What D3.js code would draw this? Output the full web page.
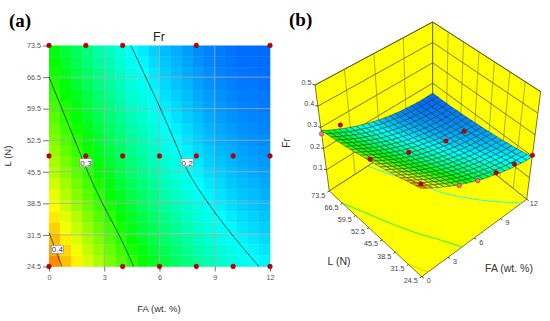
<!DOCTYPE html>
<html>
<head>
<meta charset="utf-8">
<script src="https://cdn.jsdelivr.net/npm/d3@7"></script>
<style>
  body { margin: 0; background: #fff; }
  text { font-family: "Liberation Sans", Arial, sans-serif; }
  .panel { font-family: "Liberation Serif", "Times New Roman", serif; font-weight: bold; font-size: 19px; }
</style>
</head>
<body>
<div id="chart-area"></div>
<script>
// tick labels
const faTicks = [0, 3, 6, 9, 12];
const lTicks = [24.5, 31.5, 38.5, 45.5, 52.5, 59.5, 66.5, 73.5];
const frTicks = [0.1, 0.2, 0.3, 0.4, 0.5];

// Fr x 1000 per grid cell. First row is L = 24.5, columns FA 0 -> 12
const frGrid = [
  [409, 391, 374, 357, 342, 326, 312, 299, 286, 274, 263, 252, 243, 234, 225, 218, 211, 205, 200, 196],
  [401, 383, 366, 350, 334, 319, 305, 292, 280, 268, 257, 247, 237, 228, 220, 213, 207, 201, 196, 192],
  [393, 375, 358, 342, 327, 312, 299, 285, 273, 262, 251, 241, 232, 223, 215, 208, 202, 197, 192, 188],
  [385, 367, 351, 335, 320, 306, 292, 279, 267, 256, 245, 236, 226, 218, 210, 204, 198, 192, 188, 184],
  [377, 360, 344, 328, 313, 299, 286, 273, 261, 250, 240, 230, 221, 213, 206, 200, 194, 189, 185, 181],
  [369, 352, 336, 321, 306, 292, 279, 267, 255, 244, 234, 225, 217, 209, 201, 195, 190, 185, 181, 178],
  [362, 345, 329, 314, 299, 286, 273, 261, 250, 239, 229, 220, 212, 204, 197, 191, 186, 181, 178, 174],
  [354, 338, 323, 307, 293, 280, 267, 255, 244, 234, 224, 216, 207, 200, 193, 188, 182, 178, 175, 172],
  [347, 331, 316, 301, 287, 274, 262, 250, 239, 229, 219, 211, 203, 196, 189, 184, 179, 175, 172, 169],
  [340, 324, 310, 295, 281, 268, 256, 244, 234, 224, 215, 207, 199, 192, 185, 181, 176, 172, 169, 166],
  [334, 318, 303, 289, 275, 263, 251, 239, 229, 219, 210, 203, 195, 188, 182, 177, 173, 169, 166, 164],
  [327, 311, 297, 283, 269, 257, 245, 234, 225, 215, 206, 199, 191, 184, 178, 174, 170, 166, 164, 162],
  [321, 305, 291, 277, 264, 252, 240, 229, 220, 211, 202, 195, 188, 181, 175, 171, 167, 163, 162, 160],
  [314, 299, 285, 271, 258, 247, 236, 225, 216, 206, 198, 191, 184, 178, 172, 168, 164, 161, 160, 158],
  [308, 293, 280, 266, 253, 242, 231, 220, 212, 202, 194, 188, 181, 175, 169, 166, 162, 159, 158, 156],
  [302, 287, 275, 261, 248, 238, 226, 216, 208, 199, 190, 184, 178, 172, 167, 164, 160, 157, 156, 155],
  [297, 282, 269, 256, 243, 233, 222, 212, 204, 195, 187, 181, 175, 169, 164, 161, 158, 155, 155, 153],
  [291, 277, 264, 251, 239, 229, 218, 208, 200, 192, 184, 178, 172, 167, 162, 159, 156, 154, 153, 152],
  [286, 271, 259, 246, 234, 225, 214, 204, 197, 188, 181, 176, 170, 164, 160, 157, 154, 152, 152, 151],
  [281, 266, 255, 242, 230, 221, 210, 201, 193, 185, 178, 173, 167, 162, 158, 156, 153, 151, 151, 151]
];

// contour lines as [FA, L] pairs
const contour40 = [[0, 32], [0.3, 28.8], [0.7, 24.5]];
const contour30 = [[0, 66.5], [0.7, 59.5], [1.4, 52.5], [2.1, 45.5], [2.9, 38.5], [3.8, 31.5], [4.6, 24.5]];
const contour20 = [[4.45, 73.5], [5.25, 66.5], [6.05, 59.5], [6.8, 52.5], [7.55, 45.5], [8.65, 38.5], [9.95, 31.5], [11.4, 24.5]];

// design points
const ptFA = [0, 2, 4, 8, 12, 0, 2, 4, 6, 8, 10, 12, 0, 4, 6, 8, 10, 12];
const ptL = [73.5, 73.5, 73.5, 73.5, 73.5, 49, 49, 49, 49, 49, 49, 49, 24.5, 24.5, 24.5, 24.5, 24.5, 24.5];

// points of the 3D panel that show: FA, L, Fr, and whether they sit under the surface
const dotFA = [0, 2, 0, 4, 8, 10, 12, 10, 8, 6, 4, 0];
const dotL = [73.5, 73.5, 49, 49, 49, 49, 24.5, 24.5, 24.5, 24.5, 24.5, 24.5];
const dotFr = [0.27, 0.26, 0.354, 0.273, 0.213, 0.202, 0.205, 0.225, 0.245, 0.27, 0.31, 0.443];
const dotUnder = [true, false, false, false, false, false, false, false, false, true, true, false];

const svg = d3.select('#chart-area').append('svg')
  .attr('width', 550)
  .attr('height', 321);

svg.append('text').attr('class', 'panel').attr('x', 9).attr('y', 27).text('(a)');
svg.append('text').attr('class', 'panel').attr('x', 289).attr('y', 26).text('(b)');

const color = d3.scaleLinear()
  .domain([0.115, 0.2, 0.285, 0.37, 0.455])
  .range(['#0000ff', '#00ffff', '#00ff00', '#ffff00', '#ff0000']);

const cols = frGrid[0].length;
const rows = frGrid.length;

// PANEL A
const x = d3.scaleLinear().domain([0, 12]).range([49, 270]);
const y = d3.scaleLinear().domain([24.5, 73.5]).range([266.5, 45.5]);
const faStep = 12 / cols;
const lStep = 49 / rows;

const a = svg.append('g');

frGrid.forEach((row, j) => {
  a.append('g').selectAll('rect')
    .data(row)
    .enter().append('rect')
      .attr('x', (d, i) => x(i * faStep))
      .attr('y', y(24.5 + (j + 1) * lStep))
      .attr('width', x(faStep) - x(0) + 0.3)
      .attr('height', y(24.5) - y(24.5 + lStep) + 0.3)
      .attr('fill', d => color(d / 1000));
});

const xAxisCall = d3.axisBottom(x).tickValues(faTicks).tickSize(5).tickPadding(3);
const yAxisCall = d3.axisLeft(y).tickValues(lTicks).tickSize(6).tickPadding(2).tickFormat(d3.format('.1f'));

a.append('g').selectAll('line').data(faTicks.slice(1, -1)).enter().append('line')
  .attr('x1', d => x(d)).attr('x2', d => x(d))
  .attr('y1', y(24.5)).attr('y2', y(73.5))
  .attr('stroke', '#aaa').attr('stroke-width', 0.8);
a.append('g').selectAll('line').data(lTicks.slice(1, -1)).enter().append('line')
  .attr('x1', x(0)).attr('x2', x(12))
  .attr('y1', d => y(d)).attr('y2', d => y(d))
  .attr('stroke', '#aaa').attr('stroke-width', 0.8);

[xAxisCall, yAxisCall].forEach((call, n) => {
  const ax = a.append('g')
    .attr('transform', n === 0 ? `translate(0, ${y(24.5)})` : `translate(${x(0)}, 0)`)
    .call(call);
  ax.select('.domain').remove();
  ax.selectAll('line').attr('stroke', '#777');
  ax.selectAll('text').attr('font-size', 7.2).attr('fill', '#555')
    .style('font-family', '"Liberation Sans", Arial, sans-serif');
});

const contourLine = d3.line()
  .x(d => x(d[0]))
  .y(d => y(d[1]))
  .curve(d3.curveMonotoneY);

[contour40, contour30, contour20].forEach(c => {
  a.append('path')
    .attr('d', contourLine(c))
    .attr('fill', 'none')
    .attr('stroke', '#143c28')
    .attr('stroke-width', 0.8);
});

// contour labels
[['0.4', 0.45, 28.3], ['0.3', 2, 47.5], ['0.2', 7.5, 47.5]].forEach(l => {
  a.append('rect')
    .attr('x', x(l[1]) - 6).attr('y', y(l[2]) - 4)
    .attr('width', 12).attr('height', 8)
    .attr('fill', '#fff').attr('stroke', '#888').attr('stroke-width', 0.6);
  a.append('text')
    .attr('x', x(l[1])).attr('y', y(l[2]) + 3)
    .attr('text-anchor', 'middle').attr('font-size', 8).attr('fill', '#333')
    .text(l[0]);
});

a.selectAll('circle').data(ptFA).enter().append('circle')
  .attr('cx', d => x(d))
  .attr('cy', (d, i) => y(ptL[i]))
  .attr('r', 2.4)
  .attr('fill', '#c00000')
  .attr('stroke', '#8a0000')
  .attr('stroke-width', 0.4);

a.append('text').attr('x', 159).attr('y', 41).attr('text-anchor', 'middle')
  .attr('font-size', 12.5).attr('fill', '#222').text('Fr');
a.append('text').attr('x', 159).attr('y', 312).attr('text-anchor', 'middle')
  .attr('font-size', 9.5).attr('fill', '#333').text('FA (wt. %)');
a.append('text').attr('transform', 'translate(11, 156) rotate(-90)').attr('text-anchor', 'middle')
  .attr('font-size', 9.5).attr('fill', '#333').text('L (N)');

// PANEL B
const fx = d3.scaleLinear().domain([0, 12]).range([0, 1]);
const fy = d3.scaleLinear().domain([24.5, 73.5]).range([0, 1]);
const fz = d3.scaleLinear().domain([0, 0.5]).range([0, 1]);

// box corners on screen: [floor, top] for front, right, left, back
const front = [[421.7, 276.7], [420.8, 172]];
const right = [[526.7, 199.3], [540.7, 91.7]];
const left = [[329.3, 191], [315, 85]];
const back = [[432.7, 124], [432.7, 22]];

const mix = (p, q, t) => [p[0] + (q[0] - p[0]) * t, p[1] + (q[1] - p[1]) * t];

const project = (fa, l, fr) => {
  const u = fx(fa), v = fy(l), w = fz(fr);
  const floor = mix(mix(front[0], right[0], u), mix(left[0], back[0], u), v);
  const top = mix(mix(front[1], right[1], u), mix(left[1], back[1], u), v);
  return mix(floor, top, w);
};

const b = svg.append('g');
const poly = pts => pts.map(p => p.join(',')).join(' ');
const segment = (p, q, stroke, width) => b.append('line')
  .attr('x1', p[0]).attr('y1', p[1])
  .attr('x2', q[0]).attr('y2', q[1])
  .attr('stroke', stroke).attr('stroke-width', width);

// walls and floor
[
  [project(0, 73.5, 0), project(12, 73.5, 0), project(12, 73.5, 0.5), project(0, 73.5, 0.5)],
  [project(12, 73.5, 0), project(12, 24.5, 0), project(12, 24.5, 0.5), project(12, 73.5, 0.5)],
  [project(0, 24.5, 0), project(12, 24.5, 0), project(12, 73.5, 0), project(0, 73.5, 0)]
].forEach(p => {
  b.append('polygon').attr('points', poly(p))
    .attr('fill', '#ffff00').attr('stroke', '#55551a').attr('stroke-width', 0.8);
});

// wall grid
frTicks.forEach(t => {
  segment(project(0, 73.5, t), project(12, 73.5, t), '#55551a', 0.8);
  segment(project(12, 73.5, t), project(12, 24.5, t), '#55551a', 0.8);
});
faTicks.slice(1, -1).forEach(t => segment(project(t, 73.5, 0), project(t, 73.5, 0.5), '#77772a', 0.6));
lTicks.slice(1, -1).forEach(t => segment(project(12, t, 0), project(12, t, 0.5), '#77772a', 0.6));

// contours on the floor
[[contour40, 0.4], [contour30, 0.3], [contour20, 0.2]].forEach(c => {
  b.append('path')
    .attr('d', d3.line().curve(d3.curveMonotoneY)(c[0].map(d => project(d[0], d[1], 0))))
    .attr('fill', 'none')
    .attr('stroke', c[1] === 0.4 ? '#f0c000' : color(c[1] === 0.3 ? 0.26 : 0.2))
    .attr('stroke-width', 0.9);
});

// surface vertices, averaged from the neighbouring cells
const cell = (i, j) => {
  const ci = Math.min(cols - 1, Math.max(0, i));
  const cj = Math.min(rows - 1, Math.max(0, j));
  return frGrid[cj][ci] / 1000;
};
const vertex = (i, j) => {
  const edgeI = i === 0 ? 1 : (i === cols ? cols - 1 : i);
  const edgeJ = j === 0 ? 1 : (j === rows ? rows - 1 : j);
  const mid = (cell(edgeI - 1, edgeJ - 1) + cell(edgeI, edgeJ - 1) + cell(edgeI - 1, edgeJ) + cell(edgeI, edgeJ)) / 4;
  const di = (cell(edgeI, edgeJ) - cell(edgeI - 1, edgeJ)) * (i - edgeI);
  const dj = (cell(edgeI, edgeJ) - cell(edgeI, edgeJ - 1)) * (j - edgeJ);
  return project(i * faStep, 24.5 + j * lStep, mid + di + dj);
};

// painter's order, back corner first
d3.range(rows - 1, -1, -1).forEach(j => {
  d3.range(cols - 1, -1, -1).forEach(i => {
    b.append('polygon')
      .attr('points', poly([vertex(i, j), vertex(i + 1, j), vertex(i + 1, j + 1), vertex(i, j + 1)]))
      .attr('fill', color(frGrid[j][i] / 1000))
      .attr('stroke', '#12302a')
      .attr('stroke-width', 0.45);
  });
});

b.selectAll('circle').data(dotFA).enter().append('circle')
  .attr('cx', (d, i) => project(d, dotL[i], dotFr[i])[0])
  .attr('cy', (d, i) => project(d, dotL[i], dotFr[i])[1])
  .attr('r', 2.3)
  .attr('fill', (d, i) => dotUnder[i] ? '#e07a8a' : '#c00000')
  .attr('stroke', '#7a0000')
  .attr('stroke-width', 0.4);

// ticks and tick labels
const labelStyle = sel => sel.attr('text-anchor', 'middle').attr('font-size', 7.2).attr('fill', '#444');

lTicks.forEach(t => {
  const p = project(0, t, 0);
  segment(p, [p[0] - 2, p[1] + 1.2], '#222', 0.8);
  labelStyle(b.append('text')).attr('x', p[0] - 11).attr('y', p[1] + 6.5).text(t.toFixed(1));
});
faTicks.forEach(t => {
  const p = project(t, 24.5, 0);
  segment(p, [p[0] + 2, p[1] + 1.2], '#222', 0.8);
  labelStyle(b.append('text')).attr('x', p[0] + 7).attr('y', p[1] + 6.5).text(t);
});
frTicks.forEach(t => {
  const p = project(0, 73.5, t);
  segment(p, [p[0] - 2.5, p[1] - 0.8], '#222', 0.8);
  labelStyle(b.append('text')).attr('x', p[0] - 8.5).attr('y', p[1]).text(t);
});

b.append('text').attr('x', 339).attr('y', 265).attr('text-anchor', 'middle')
  .attr('font-size', 10.5).attr('fill', '#333').text('L (N)');
b.append('text').attr('x', 509).attr('y', 272).attr('text-anchor', 'middle')
  .attr('font-size', 10.5).attr('fill', '#333').text('FA (wt. %)');
b.append('text').attr('transform', 'translate(290, 143) rotate(-90)').attr('text-anchor', 'middle')
  .attr('font-size', 10).attr('fill', '#333').text('Fr');
</script>
</body>
</html>
